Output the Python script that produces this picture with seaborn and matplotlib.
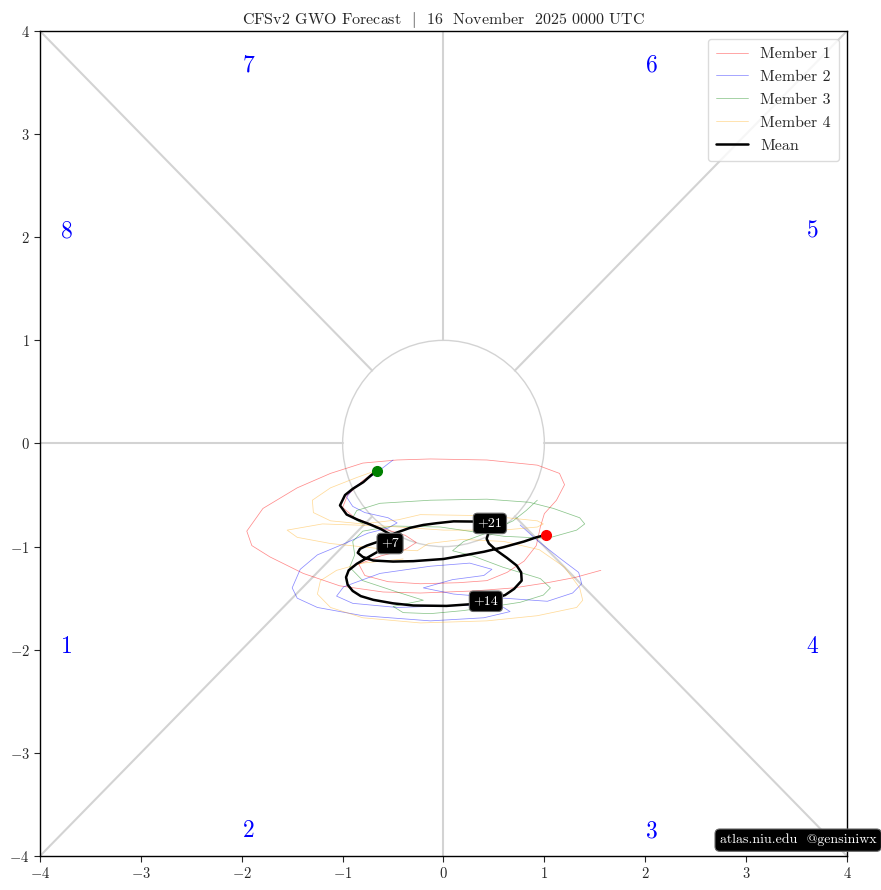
import numpy as np
import pandas as pd
import matplotlib
matplotlib.use("Agg")
import matplotlib.pyplot as plt
import seaborn as sns

# mean trajectory (GWO phase space)
mean_x = [-0.656, -0.72, -0.795, -0.90, -0.976, -1.026, -0.96, -0.85, -0.728, -0.62, -0.53,
          -0.55, -0.66, -0.76, -0.86, -0.94, -0.966, -0.95, -0.90, -0.82, -0.696, -0.50, -0.299,
          0.03, 0.25, 0.42, 0.61, 0.70, 0.775, 0.77, 0.725, 0.63, 0.527, 0.45, 0.428, 0.45, 0.45,
          0.296, 0.10, -0.068, -0.20, -0.332, -0.481, -0.58, -0.662, -0.76, -0.828, -0.85, -0.80,
          -0.696, -0.50, -0.299, 0.0, 0.196, 0.40, 0.593, 0.80, 0.92, 1.016]
mean_y = [-0.262, -0.31, -0.375, -0.44, -0.50, -0.60, -0.689, -0.74, -0.785, -0.83, -0.88,
          -0.97, -1.054, -1.11, -1.167, -1.23, -1.297, -1.37, -1.43, -1.48, -1.516, -1.55, -1.571,
          -1.575, -1.56, -1.53, -1.47, -1.41, -1.33, -1.25, -1.183, -1.11, -1.038, -0.97, -0.924, -0.85, -0.77,
          -0.757, -0.755, -0.773, -0.79, -0.818, -0.870, -0.92, -0.957, -0.99, -1.022, -1.06, -1.10,
          -1.135, -1.145, -1.141, -1.12, -1.086, -1.05, -1.006, -0.95, -0.91, -0.886]

m1_x = [-0.66, -0.80, -0.95, -1.00, -0.88, -0.62, -0.38, -0.27, -0.38, -0.62, -0.84, -0.78, -0.55,
        -0.23, 0.15, 0.43, 0.63, 0.80, 0.92, 0.96, 1.00, 1.12, 1.20, 1.15, 0.93, 0.43, -0.13, -0.46,
        -0.80, -1.12, -1.45, -1.79, -1.95, -1.90, -1.72, -1.39, -1.03, -0.60, -0.23, 0.30, 0.70,
        1.03, 1.30, 1.56]
m1_y = [-0.26, -0.36, -0.50, -0.62, -0.72, -0.82, -0.89, -0.96, -1.03, -1.09, -1.17, -1.28, -1.34,
        -1.36, -1.35, -1.33, -1.25, -1.14, -0.99, -0.81, -0.68, -0.55, -0.40, -0.29, -0.21, -0.16,
        -0.15, -0.16, -0.19, -0.29, -0.43, -0.63, -0.85, -0.99, -1.10, -1.26, -1.38, -1.44, -1.45,
        -1.43, -1.40, -1.35, -1.30, -1.23]

m2_x = [-0.50, -0.62, -0.73, -0.88, -0.96, -0.90, -0.78, -0.55, -0.46, -0.55, -0.75, -0.98, -1.25,
        -1.42, -1.50, -1.45, -1.25, -0.80, -0.13, 0.40, 0.66, 0.58, 0.20, -0.46, -0.90, -1.06, -0.99,
        -0.63, -0.13, 0.26, 0.48, 0.40, 0.09, -0.20, 0.10, 0.60, 1.03, 1.28, 1.37, 1.34, 1.15, 0.93,
        0.76]
m2_y = [-0.16, -0.25, -0.33, -0.42, -0.52, -0.61, -0.67, -0.72, -0.77, -0.82, -0.87, -0.97, -1.08,
        -1.22, -1.40, -1.50, -1.59, -1.67, -1.72, -1.69, -1.63, -1.58, -1.57, -1.59, -1.55, -1.48,
        -1.39, -1.26, -1.19, -1.16, -1.22, -1.28, -1.32, -1.40, -1.46, -1.50, -1.53, -1.45, -1.36,
        -1.25, -1.11, -0.94, -0.79]

m3_x = [-0.80, -0.90, -0.86, -0.63, -0.13, 0.43, 0.85, 1.09, 1.35, 1.40, 1.32, 1.03, 0.60, -0.03,
        -0.50, -0.80, -0.90, -0.88, -0.93, -0.80, -0.46, -0.20, -0.50, -0.40, -0.13, 0.20, 0.56,
        0.76, 0.99, 1.06, 0.96, 0.59, 0.29, 0.09, 0.20, 0.45, 0.69, 0.82, 0.93]
m3_y = [-0.78, -0.72, -0.65, -0.58, -0.55, -0.54, -0.57, -0.63, -0.72, -0.78, -0.84, -0.92, -0.90,
        -0.81, -0.80, -0.85, -0.95, -1.08, -1.20, -1.33, -1.44, -1.52, -1.58, -1.64, -1.65, -1.62,
        -1.57, -1.54, -1.47, -1.40, -1.31, -1.20, -1.09, -1.04, -0.95, -0.86, -0.75, -0.65, -0.55]

m4_x = [-0.66, -0.86, -1.12, -1.30, -1.29, -1.12, -0.80, -0.45, -0.23, 0.43, 0.93, 0.99, 0.93, 0.59,
        0.00, -0.60, -1.20, -1.55, -1.45, -1.12, -0.63, -0.26, -0.15, 0.19, 0.60, 0.95, 1.20, 1.35,
        1.38, 1.32, 0.93, 0.43, -0.23, -0.80, -1.12, -1.25, -1.22, -1.06, -0.80, -0.40]
m4_y = [-0.26, -0.33, -0.43, -0.55, -0.67, -0.75, -0.78, -0.74, -0.69, -0.70, -0.75, -0.78, -0.81,
        -0.84, -0.84, -0.80, -0.78, -0.84, -0.91, -0.97, -1.02, -1.04, -0.97, -0.93, -0.95, -1.03,
        -1.20, -1.40, -1.52, -1.59, -1.67, -1.72, -1.74, -1.69, -1.59, -1.46, -1.33, -1.23, -1.16,
        -1.12]

members = ["Member 1", "Member 2", "Member 3", "Member 4"]
member_colors = ["red", "blue", "green", "orange"]
member_alpha = [0.45, 0.45, 0.45, 0.4]

lead_labels = ["+7", "+14", "+21"]
lead_x = [-0.53, 0.42, 0.46]
lead_y = [-0.97, -1.53, -0.775]

phase_names = ["1", "2", "3", "4", "5", "6", "7", "8"]
phase_x = [-3.73, -1.93, 2.07, 3.66, 3.66, 2.07, -1.93, -3.73]
phase_y = [-1.97, -3.76, -3.76, -1.97, 2.06, 3.67, 3.67, 2.06]

sns.set_style("white")
plt.rcParams['font.family'] = ['cmr10', 'DejaVu Serif']
plt.rcParams['axes.formatter.use_mathtext'] = True
plt.rcParams['mathtext.fontset'] = 'cm'

fig = plt.figure(figsize=(8.81, 8.90), dpi=100)
ax = fig.add_axes([0.0454, 0.0382, 0.916, 0.927])

# phase boundaries
gray = "lightgray"
ax.plot([-4, -1], [0, 0], color=gray, lw=1.5, zorder=1)
ax.plot([1, 4], [0, 0], color=gray, lw=1.5, zorder=1)
ax.plot([0, 0], [1, 4], color=gray, lw=1.5, zorder=1)
ax.plot([0, 0], [-1, -4], color=gray, lw=1.5, zorder=1)
r = np.sqrt(0.5)
for sx in (-1, 1):
    for sy in (-1, 1):
        ax.plot([sx * r, sx * 4], [sy * r, sy * 4], color=gray, lw=1.5, zorder=1)
ax.add_patch(plt.Circle((0, 0), 1, fill=False, color=gray, lw=1, zorder=1))

for name, mx, my, c, a in zip(members, [m1_x, m2_x, m3_x, m4_x], [m1_y, m2_y, m3_y, m4_y],
                              member_colors, member_alpha):
    df = pd.DataFrame({"x": mx, "y": my})
    sns.lineplot(data=df, x="x", y="y", sort=False, estimator=None, color=c, alpha=a,
                 lw=0.55, label=name, ax=ax, zorder=2)

mean_df = pd.DataFrame({"x": mean_x, "y": mean_y})
sns.lineplot(data=mean_df, x="x", y="y", sort=False, estimator=None, color="black",
             lw=1.8, label="Mean", ax=ax, zorder=3)

ax.plot(mean_x[0], mean_y[0], "o", color="green", ms=7, zorder=5)
ax.plot(mean_x[-1], mean_y[-1], "o", color="red", ms=7, zorder=5)

for lab, lx, ly in zip(lead_labels, lead_x, lead_y):
    ax.text(lx, ly, lab, color="white", fontsize=10, ha="center", va="center", zorder=6,
            bbox=dict(boxstyle="round,pad=0.3", fc="black", ec="dimgray", lw=0.8))

for p, px, py in zip(phase_names, phase_x, phase_y):
    ax.text(px, py, p, color="blue", fontsize=17, ha="center", va="center")

ax.set_xlim(-4, 4)
ax.set_ylim(-4, 4)
ax.set_xticks(range(-4, 5))
ax.set_yticks(range(-4, 5))
ax.tick_params(labelsize=10.5, length=4, direction="out", bottom=True, left=True)
ax.set_xlabel("")
ax.set_ylabel("")
for s in ax.spines.values():
    s.set_color("black")
    s.set_linewidth(1)

ax.set_title(r"CFSv2 GWO Forecast  $|$  16  November  2025 0000 UTC", fontsize=11.5, pad=5)

leg = ax.legend(loc="upper right", fontsize=11.5, frameon=True, borderpad=0.5,
                handlelength=2.0, labelspacing=0.55)
leg.get_frame().set_edgecolor("lightgray")

fig.text(0.906, 0.056, "atlas.niu.edu  @gensiniwx", color="white", fontsize=10,
         ha="center", va="center",
         bbox=dict(boxstyle="round,pad=0.35", fc="black", ec="dimgray", lw=0.8))

fig.savefig("out.png", dpi=100)
